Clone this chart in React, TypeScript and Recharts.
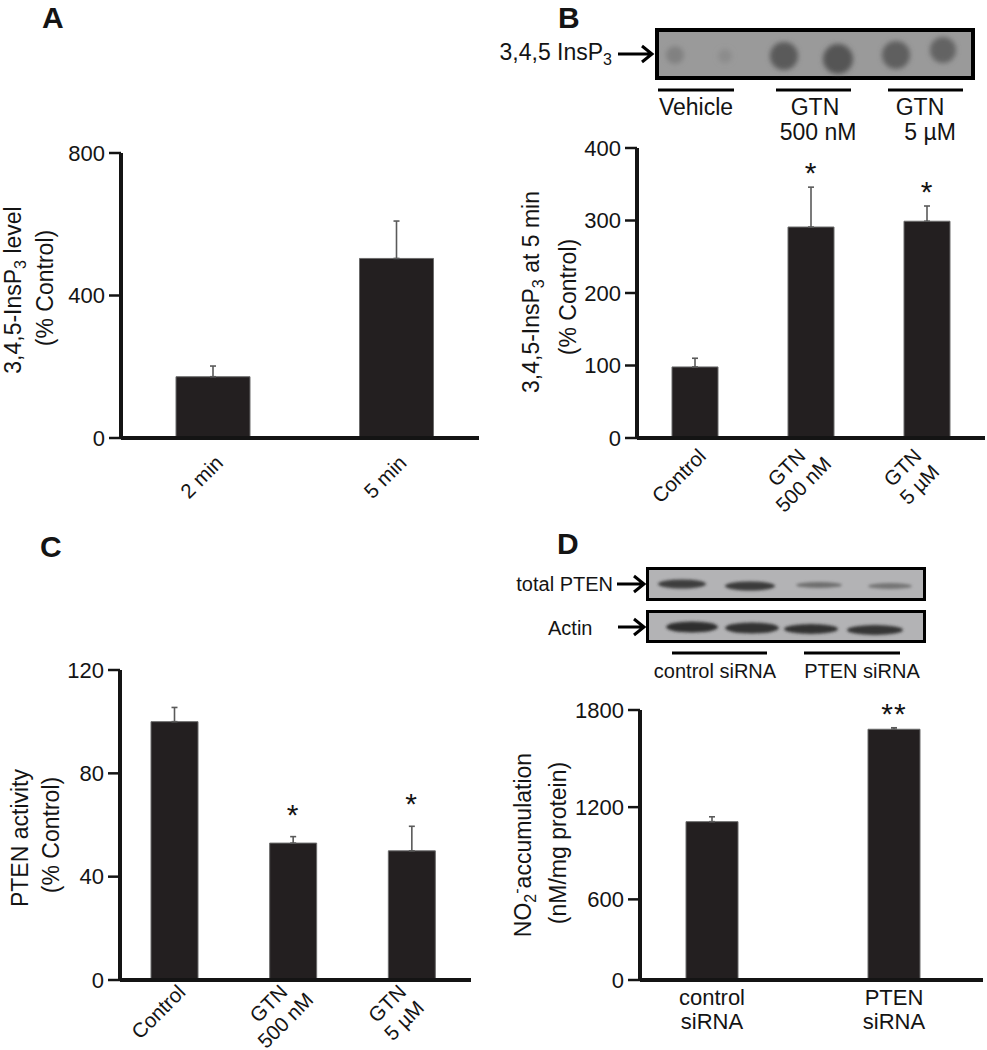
import React from 'react';
import { Bar, ComposedChart, ErrorBar, Line, XAxis, YAxis } from 'recharts';

const FONT = '"Liberation Sans", Arial, Helvetica, sans-serif';
const INK = '#141414';
const BAR_FILL = '#231f20';

// A: InsP3 time course
const timeLabels = ['2 min', '5 min'];
const timeMeans = [172, 504];
const timeSem = [30, 105];
const timeTicks = [0, 400, 800];

// B: InsP3 at 5 min
const gtnLabels = ['Control', 'GTN\n500 nM', 'GTN\n5 µM'];
const insp3Means = [98, 291, 299];
const insp3Sem = [12, 55, 21];
const insp3Stars = ['', '*', '*'];
const insp3Ticks = [0, 100, 200, 300, 400];

// C: PTEN activity
const ptenMeans = [100, 53, 50];
const ptenSem = [5.5, 2.5, 9.5];
const ptenStars = ['', '*', '*'];
const ptenTicks = [0, 40, 80, 120];

// D: nitrite accumulation
const sirnaLabels = ['control\nsiRNA', 'PTEN\nsiRNA'];
const nitriteMeans = [1108, 1683];
const nitriteSem = [31, 9];
const nitriteStars = ['', '**'];
const nitriteTicks = [0, 600, 1200, 1800];

type Row = { name: string; value: number; err: [number, number]; top: number; star: string };

const makeRows = (names: string[], means: number[], sem: number[], stars?: string[]): Row[] =>
  names.map((name, i) => ({
    name,
    value: means[i],
    err: [0, sem[i]],
    top: means[i] + sem[i],
    star: stars ? stars[i] : '',
  }));

// the y axis of panel D is a little stretched towards the top in the source figure
function powScale(k: number): any {
  let dom = [0, 1];
  let rng = [0, 1];
  const s: any = (v: number) => {
    const t = (Number(v) - dom[0]) / (dom[1] - dom[0]);
    const c = t <= 0 ? 0 : Math.pow(t, k);
    return rng[0] + (rng[1] - rng[0]) * c;
  };
  s.domain = (d?: any[]) => {
    if (!d) return dom.slice();
    dom = d.map(Number);
    return s;
  };
  s.range = (r?: any[]) => {
    if (!r) return rng.slice();
    rng = r.map(Number);
    return s;
  };
  s.invert = (p: number) => {
    const t = (p - rng[0]) / (rng[1] - rng[0]);
    return dom[0] + (dom[1] - dom[0]) * Math.pow(Math.max(t, 0), 1 / k);
  };
  s.ticks = (n = 5) => {
    const step = (dom[1] - dom[0]) / n;
    return Array.from({ length: n + 1 }, (_, i) => dom[0] + i * step);
  };
  s.tickFormat = () => (v: number) => String(v);
  s.nice = () => s;
  s.clamp = () => s;
  s.copy = () => powScale(k).domain(dom).range(rng);
  return s;
}

function SlantTick(props: any) {
  const { x, y, payload, dx = 0, dy = 0 } = props;
  const lines = String(payload.value).split('\n');
  const lh = 24;
  return (
    <g transform={`translate(${x + dx},${y + dy}) rotate(-45)`}>
      <text textAnchor="middle" fontSize={20.5} fill={INK} fontFamily={FONT}>
        {lines.map((l, i) => (
          <tspan key={i} x={0} y={(i - (lines.length - 1) / 2) * lh + 7}>
            {l}
          </tspan>
        ))}
      </text>
    </g>
  );
}

function FlatTick(props: any) {
  const { x, y, payload } = props;
  const lines = String(payload.value).split('\n');
  return (
    <text textAnchor="middle" fontSize={22} fill={INK} fontFamily={FONT}>
      {lines.map((l, i) => (
        <tspan key={i} x={x} y={y + 25 + i * 24}>
          {l}
        </tspan>
      ))}
    </text>
  );
}

function StarDot(props: any) {
  const { cx, cy, payload, gap } = props;
  if (!payload || !payload.star || cx == null || cy == null) return <g />;
  return (
    <text
      x={cx}
      y={cy - gap + 17}
      textAnchor="middle"
      fontSize={30}
      letterSpacing={1}
      fill={INK}
      fontFamily={FONT}
    >
      {payload.star}
    </text>
  );
}

type PanelProps = {
  rows: Row[];
  left: number;
  top: number;
  width: number;
  height: number;
  plotTop: number;
  plotRight: number;
  yWidth: number;
  xHeight: number;
  domain: [number, number];
  ticks: number[];
  barSize: number;
  pad: { left: number; right: number };
  tick: React.ReactElement;
  starGap: number;
  scale?: any;
};

function BarPanel(p: PanelProps) {
  return (
    <div style={{ position: 'absolute', left: p.left, top: p.top }}>
      <ComposedChart
        width={p.width}
        height={p.height}
        data={p.rows}
        margin={{ top: p.plotTop, right: p.plotRight, bottom: 0, left: 0 }}
      >
        <XAxis
          dataKey="name"
          type="category"
          interval={0}
          height={p.xHeight}
          tickLine={false}
          tickSize={0}
          tickMargin={0}
          padding={p.pad}
          axisLine={{ stroke: INK, strokeWidth: 4 }}
          tick={p.tick}
        />
        <YAxis
          type="number"
          domain={p.domain}
          ticks={p.ticks}
          width={p.yWidth}
          scale={p.scale ?? 'linear'}
          interval={0}
          axisLine={{ stroke: INK, strokeWidth: 4 }}
          tickLine={{ stroke: INK, strokeWidth: 2.5 }}
          tickSize={12}
          tickMargin={4}
          tick={{ fontSize: 22, fill: INK, fontFamily: FONT }}
        />
        <Bar
          dataKey="value"
          fill={BAR_FILL}
          stroke="#6b6b6b"
          strokeWidth={1}
          barSize={p.barSize}
          isAnimationActive={false}
        >
          <ErrorBar dataKey="err" direction="y" width={3} stroke="#5a5a5a" strokeWidth={1.6} />
        </Bar>
        <Line
          dataKey="top"
          stroke="none"
          dot={<StarDot gap={p.starGap} />}
          activeDot={false}
          legendType="none"
          isAnimationActive={false}
        />
      </ComposedChart>
    </div>
  );
}

function Arrow({ x1, x2, y }: { x1: number; x2: number; y: number }) {
  return (
    <path
      d={`M${x1} ${y} H${x2 - 1} M${x2 - 10} ${y - 8} L${x2} ${y} L${x2 - 10} ${y + 8}`}
      stroke="#000"
      strokeWidth={3}
      fill="none"
    />
  );
}

function VLabel({ x, y, children }: { x: number; y: number; children: React.ReactNode }) {
  return (
    <text
      transform={`translate(${x},${y}) rotate(-90)`}
      textAnchor="middle"
      dy="0.35em"
      fontSize={23}
      fill={INK}
      fontFamily={FONT}
    >
      {children}
    </text>
  );
}

function Overlay() {
  const dotsB = [
    { cx: 675, cy: 55, r: 9, c: '#818181' },
    { cx: 725, cy: 56, r: 7, c: '#8c8c8c' },
    { cx: 784, cy: 56, r: 14, c: '#5a5a5a' },
    { cx: 838, cy: 59, r: 15, c: '#555555' },
    { cx: 896, cy: 55, r: 14, c: '#5f5f5f' },
    { cx: 943, cy: 50, r: 13, c: '#636363' },
  ];
  const ptenBands = [
    { cx: 682, cy: 584, rx: 24, ry: 4.5, c: '#3e3e3e' },
    { cx: 750, cy: 586, rx: 25, ry: 4.5, c: '#3a3a3a' },
    { cx: 819, cy: 585, rx: 23, ry: 3, c: '#6e6e6e' },
    { cx: 890, cy: 586, rx: 22, ry: 3, c: '#747474' },
  ];
  const actinBands = [
    { cx: 692, cy: 627, rx: 26, ry: 5.5, c: '#2e2e2e' },
    { cx: 752, cy: 628, rx: 27, ry: 5.5, c: '#323232' },
    { cx: 811, cy: 629, rx: 27, ry: 5, c: '#333333' },
    { cx: 875, cy: 630, rx: 28, ry: 5, c: '#363636' },
  ];
  return (
    <svg
      width={987}
      height={1050}
      style={{ position: 'absolute', left: 0, top: 0, pointerEvents: 'none' }}
      fontFamily={FONT}
    >
      <defs>
        <filter id="soft" x="-60%" y="-60%" width="220%" height="220%">
          <feGaussianBlur stdDeviation="2.6" />
        </filter>
        <filter id="band" x="-30%" y="-150%" width="160%" height="400%">
          <feGaussianBlur stdDeviation="1.6" />
        </filter>
      </defs>

      {/* panel letters */}
      <text x={42} y={28} fontSize={30} fontWeight="bold" fill={INK}>A</text>
      <text x={558} y={28} fontSize={30} fontWeight="bold" fill={INK}>B</text>
      <text x={40} y={557} fontSize={30} fontWeight="bold" fill={INK}>C</text>
      <text x={557} y={554} fontSize={30} fontWeight="bold" fill={INK}>D</text>

      {/* y axis titles */}
      <VLabel x={13} y={290}>
        3,4,5-InsP<tspan fontSize={16} dy={5}>3</tspan>
        <tspan dy={-5}> level</tspan>
      </VLabel>
      <VLabel x={45} y={288}>(% Control)</VLabel>
      <VLabel x={531} y={292}>
        3,4,5-InsP<tspan fontSize={16} dy={5}>3</tspan>
        <tspan dy={-5}> at 5 min</tspan>
      </VLabel>
      <VLabel x={568} y={297}>(% Control)</VLabel>
      <VLabel x={20} y={838}>PTEN activity</VLabel>
      <VLabel x={51} y={835}>(% Control)</VLabel>
      <VLabel x={523} y={845}>
        NO<tspan fontSize={16} dy={5}>2</tspan>
        <tspan fontSize={16} dy={-14}>-</tspan>
        <tspan dy={9}>accumulation</tspan>
      </VLabel>
      <VLabel x={558} y={843}>(nM/mg protein)</VLabel>

      {/* B: dot blot */}
      <text x={612} y={60} textAnchor="end" fontSize={23} fill={INK}>
        3,4,5 InsP<tspan fontSize={16} dy={5}>3</tspan>
      </text>
      <Arrow x1={618} x2={652} y={54} />
      <rect x={657} y={30} width={316} height={48} fill="#9a9a9a" stroke="#000" strokeWidth={4} />
      {dotsB.map((d, i) => (
        <circle key={i} cx={d.cx} cy={d.cy} r={d.r} fill={d.c} filter="url(#soft)" />
      ))}
      {[
        [658, 734],
        [776, 851],
        [888, 963],
      ].map(([a, b], i) => (
        <line key={i} x1={a} x2={b} y1={90} y2={90} stroke="#000" strokeWidth={3} />
      ))}
      <g fontSize={23} fill={INK} textAnchor="middle">
        <text x={696} y={115}>Vehicle</text>
        <text x={815} y={115}>GTN</text>
        <text x={818} y={140}>500 nM</text>
        <text x={920} y={115}>GTN</text>
        <text x={930} y={140}>5 µM</text>
      </g>

      {/* D: western blots */}
      <text x={613} y={591} textAnchor="end" fontSize={20} fill={INK}>total PTEN</text>
      <Arrow x1={617} x2={644} y={584} />
      <text x={548} y={635} fontSize={20} fill={INK}>Actin</text>
      <Arrow x1={618} x2={644} y={627} />
      <rect x={647.5} y={568.5} width={277} height={31} fill="#b3b3b5" stroke="#000" strokeWidth={3} />
      {ptenBands.map((b, i) => (
        <ellipse key={i} cx={b.cx} cy={b.cy} rx={b.rx} ry={b.ry} fill={b.c} filter="url(#band)" />
      ))}
      <rect x={647.5} y={611.5} width={277} height={30} fill="#b3b3b5" stroke="#000" strokeWidth={3} />
      {actinBands.map((b, i) => (
        <ellipse key={i} cx={b.cx} cy={b.cy} rx={b.rx} ry={b.ry} fill={b.c} filter="url(#band)" />
      ))}
      <line x1={672} x2={767} y1={653} y2={653} stroke="#000" strokeWidth={3} />
      <line x1={804} x2={900} y1={653} y2={653} stroke="#000" strokeWidth={3} />
      <g fontSize={20} fill={INK} textAnchor="middle">
        <text x={715} y={678}>control siRNA</text>
        <text x={862} y={678}>PTEN siRNA</text>
      </g>
    </svg>
  );
}

export default function App() {
  const rowsA = makeRows(timeLabels, timeMeans, timeSem);
  const rowsB = makeRows(gtnLabels, insp3Means, insp3Sem, insp3Stars);
  const rowsC = makeRows(gtnLabels, ptenMeans, ptenSem, ptenStars);
  const rowsD = makeRows(sirnaLabels, nitriteMeans, nitriteSem, nitriteStars);

  return (
    <div
      style={{
        position: 'absolute',
        left: 0,
        top: 0,
        width: 987,
        height: 1050,
        background: '#fff',
        fontFamily: FONT,
        overflow: 'hidden',
      }}
    >
      <BarPanel
        rows={rowsA}
        left={0}
        top={0}
        width={490}
        height={520}
        plotTop={153}
        plotRight={11}
        yWidth={121}
        xHeight={82}
        domain={[0, 800]}
        ticks={timeTicks}
        barSize={74}
        pad={{ left: 0, right: -9 }}
        tick={<SlantTick dx={-11} dy={39} />}
        starGap={21}
      />
      <BarPanel
        rows={rowsB}
        left={480}
        top={0}
        width={507}
        height={520}
        plotTop={148}
        plotRight={2}
        yWidth={157}
        xHeight={82}
        domain={[0, 400]}
        ticks={insp3Ticks}
        barSize={46}
        pad={{ left: 0, right: 0 }}
        tick={<SlantTick dx={-16} dy={38} />}
        starGap={21}
      />
      <BarPanel
        rows={rowsC}
        left={0}
        top={520}
        width={490}
        height={530}
        plotTop={150}
        plotRight={19}
        yWidth={120}
        xHeight={70}
        domain={[0, 120]}
        ticks={ptenTicks}
        barSize={47}
        pad={{ left: -5, right: 0 }}
        tick={<SlantTick dx={-16} dy={32} />}
        starGap={29}
      />
      <BarPanel
        rows={rowsD}
        left={480}
        top={520}
        width={507}
        height={530}
        plotTop={190}
        plotRight={4}
        yWidth={160}
        xHeight={70}
        domain={[0, 1800]}
        ticks={nitriteTicks}
        barSize={52}
        pad={{ left: -19, right: -2 }}
        tick={<FlatTick />}
        starGap={21}
        scale={powScale(1.1)}
      />
      <Overlay />
    </div>
  );
}
